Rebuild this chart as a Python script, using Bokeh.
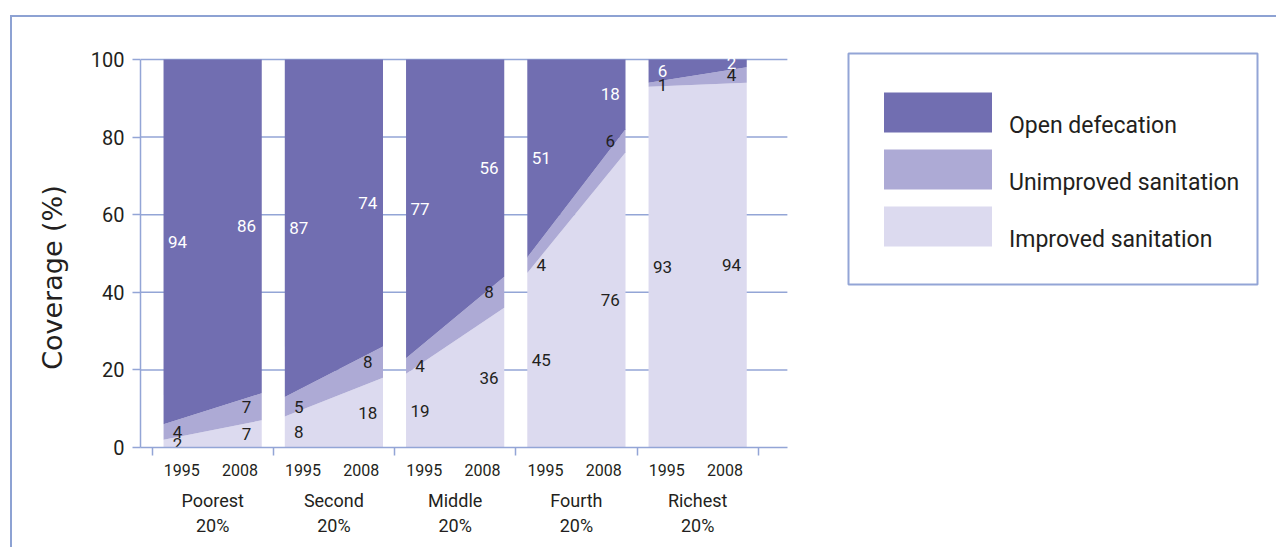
from bokeh.plotting import figure
from bokeh.models import (ColumnDataSource, FixedTicker, LinearAxis, Range1d, Legend,
                          LegendItem, BoxAnnotation)
from bokeh.core.properties import value
from bokeh.embed import file_html
from bokeh.resources import INLINE

# ---- data ----
groups = ["Poorest\n20%", "Second\n20%", "Middle\n20%", "Fourth\n20%", "Richest\n20%"]
years = ["1995", "2008"]
improved_1995 = [2, 8, 19, 45, 93]
improved_2008 = [7, 18, 36, 76, 94]
unimproved_1995 = [4, 5, 4, 4, 1]
unimproved_2008 = [7, 8, 8, 6, 4]
open_1995 = [94, 87, 77, 51, 6]
open_2008 = [86, 74, 56, 18, 2]
series_names = ["Improved sanitation", "Unimproved sanitation", "Open defecation"]
y_ticks = [0, 20, 40, 60, 80, 100]

# ---- styles / layout ----
colors = ["#DCDAEF", "#ADAAD5", "#716EB1"]
label_colors = ["#231F20", "#231F20", "#FFFFFF"]
LINE = "#93A5D6"
TXT = "#231F20"
FONT = "Roboto"
INSET = 0.095               # gap between group boundary and band
YEAR_POS = [0.245, 0.725]   # year tick label offsets in a group
VAL_POS = [0.21, 0.78]      # value label offsets in a group
PX_X = 121.25               # px per group
PX_Y = 3.88                 # px per percent
FRAME_W, FRAME_H = 1136, 400
X0 = -0.095
X_CHART_END = 5.24

p = figure(frame_width=FRAME_W, frame_height=FRAME_H,
           min_border_left=128, min_border_top=30, min_border_right=0, min_border_bottom=100,
           x_range=Range1d(X0, X0 + FRAME_W / PX_X), y_range=Range1d(0, FRAME_H / PX_Y),
           output_backend="svg", toolbar_location=None,
           background_fill_color="white", border_fill_color="white",
           outline_line_color=None)
p.styles = {"border-top": "2px solid #8DA2D3", "border-left": "2px solid #8DA2D3",
            "margin-top": "15px", "margin-left": "10px"}

# ---- grid lines (limited to the chart part) ----
p.xgrid.grid_line_color = None
p.ygrid.grid_line_color = None
p.segment(x0=X0, x1=X_CHART_END, y0=y_ticks[1:], y1=y_ticks[1:],
          line_color=LINE, line_width=1.5, level="underlay")

stack_keys = ["improved", "unimproved", "open"]
first_renderers = None
lx, ly, lt, lc = [], [], [], []
for i in range(len(groups)):
    vals95 = [improved_1995[i], unimproved_1995[i], open_1995[i]]
    vals08 = [improved_2008[i], unimproved_2008[i], open_2008[i]]
    src = ColumnDataSource(dict(
        x=[i + INSET, i + 1 - INSET],
        improved=[improved_1995[i], improved_2008[i]],
        unimproved=[unimproved_1995[i], unimproved_2008[i]],
        open=[open_1995[i], open_2008[i]],
    ))
    rs = p.varea_stack(stack_keys, x="x", fill_color=colors, source=src)
    if first_renderers is None:
        first_renderers = rs
    for k, vals in enumerate([vals95, vals08]):
        base = 0
        for s, v in enumerate(vals):
            lx.append(i + VAL_POS[k])
            ly.append(base + v / 2)
            lt.append(str(v))
            lc.append(label_colors[s])
            base += v

lsrc = ColumnDataSource(dict(x=lx, y=ly, text=lt, color=lc))
p.text(x="x", y="y", text="text", text_color="color", source=lsrc,
       text_align="center", text_baseline="middle",
       text_font=value(FONT), text_font_size=value("17px"))

# ---- y axis ----
ya = p.yaxis[0]
ya.ticker = FixedTicker(ticks=y_ticks)
ya.bounds = (0, 100)
ya.axis_line_color = LINE
ya.axis_line_width = 1.5
ya.major_tick_line_color = LINE
ya.major_tick_line_width = 1.5
ya.major_tick_out = 8
ya.major_tick_in = 0
ya.minor_tick_line_color = None
ya.major_label_text_font = FONT
ya.major_label_text_font_size = "20px"
ya.major_label_text_color = TXT
ya.major_label_standoff = 8
ya.axis_label = "Coverage (%)" + "\u00a0" * 7
ya.axis_label_text_font = "DejaVu Sans"
ya.axis_label_text_font_size = "27px"
ya.axis_label_text_font_style = "normal"
ya.axis_label_text_color = TXT
ya.axis_label_standoff = 20

# ---- x axis: year labels + group boundary ticks ----
year_ticks = []
year_over = {}
for i in range(len(groups)):
    for k, yr in enumerate(years):
        t = i + YEAR_POS[k]
        year_ticks.append(t)
        year_over[t] = yr
xa = p.xaxis[0]
xa.ticker = FixedTicker(ticks=year_ticks, minor_ticks=list(range(len(groups) + 1)))
xa.bounds = (X0, X_CHART_END)
xa.major_label_overrides = year_over
xa.axis_line_color = LINE
xa.axis_line_width = 1.5
xa.major_tick_line_color = None
xa.major_tick_out = 0
xa.major_tick_in = 0
xa.minor_tick_line_color = LINE
xa.minor_tick_line_width = 1.5
xa.minor_tick_out = 8
xa.minor_tick_in = 0
xa.major_label_text_font = FONT
xa.major_label_text_font_size = "16px"
xa.major_label_text_color = TXT
xa.major_label_standoff = 8

group_ticks = [i + 0.5 for i in range(len(groups))]
xb = LinearAxis(ticker=FixedTicker(ticks=group_ticks, minor_ticks=[]),
                major_label_overrides={t: g for t, g in zip(group_ticks, groups)})
xb.axis_line_color = None
xb.major_tick_line_color = None
xb.major_tick_out = 0
xb.major_tick_in = 0
xb.minor_tick_line_color = None
xb.major_label_text_font = FONT
xb.major_label_text_font_size = "18px"
xb.major_label_text_color = TXT
xb.major_label_standoff = 11
p.add_layout(xb, "below")

# ---- legend (box units are px from the frame's bottom-left corner) ----
legend_box = BoxAnnotation(left=708, right=1117, top=394, bottom=163,
                           left_units="screen", right_units="screen",
                           top_units="screen", bottom_units="screen",
                           fill_color=None, fill_alpha=0,
                           line_color=LINE, line_alpha=1.0, line_width=2)
p.add_layout(legend_box)

items = [LegendItem(label="\n" + series_names[2], renderers=[first_renderers[2]]),
         LegendItem(label="\n" + series_names[1], renderers=[first_renderers[1]]),
         LegendItem(label="\n" + series_names[0], renderers=[first_renderers[0]])]
legend = Legend(items=items, location=(730, 194), glyph_width=135, glyph_height=50,
                spacing=3, padding=10, margin=0, label_standoff=4,
                label_text_font=FONT, label_text_font_size="23px",
                label_text_line_height=1.05,
                label_text_color=TXT,
                border_line_color=None, background_fill_alpha=0.0)
p.add_layout(legend)

open("out.html", "w").write(file_html(p, INLINE))
